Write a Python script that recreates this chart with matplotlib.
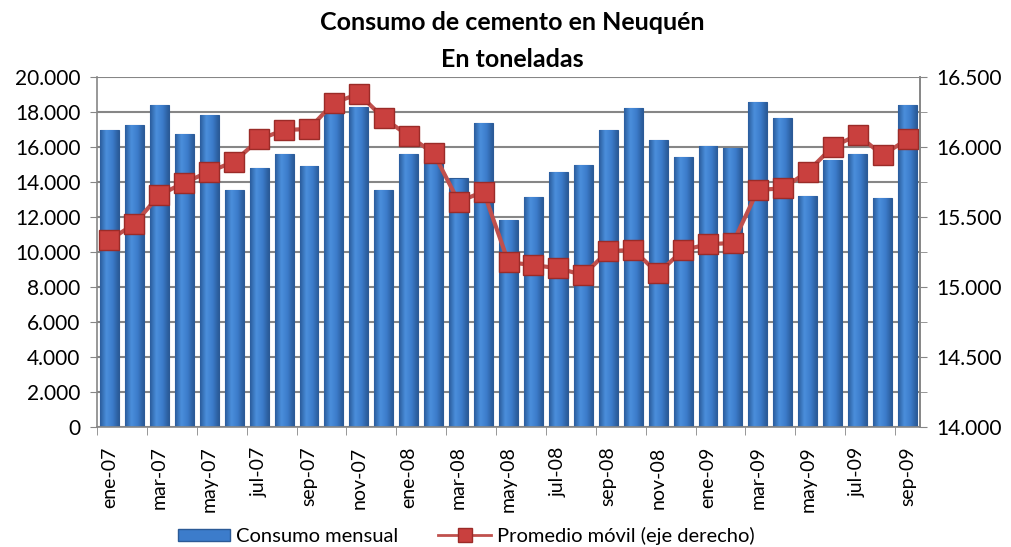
import matplotlib
matplotlib.use('Agg')
import matplotlib.pyplot as plt
import numpy as np
from matplotlib.colors import LinearSegmentedColormap
from matplotlib.ticker import FuncFormatter, FixedLocator, MultipleLocator
from matplotlib.lines import Line2D
from matplotlib.patches import Patch

months = ['ene-07', 'feb-07', 'mar-07', 'abr-07', 'may-07', 'jun-07', 'jul-07', 'ago-07',
          'sep-07', 'oct-07', 'nov-07', 'dic-07', 'ene-08', 'feb-08', 'mar-08', 'abr-08',
          'may-08', 'jun-08', 'jul-08', 'ago-08', 'sep-08', 'oct-08', 'nov-08', 'dic-08',
          'ene-09', 'feb-09', 'mar-09', 'abr-09', 'may-09', 'jun-09', 'jul-09', 'ago-09',
          'sep-09']

# consumo mensual (toneladas)
consumo = [17000, 17250, 18400, 16750, 17850, 13550, 14800, 15600, 14900, 18000,
           18270, 13550, 15600, 15300, 14200, 17350, 11830, 13160, 14550, 14990,
           16950, 18250, 16380, 15450, 16030, 15930, 18590, 17680, 13200, 15260,
           15600, 13070, 18400]

# promedio movil (eje derecho)
promedio = [15336, 15450, 15657, 15745, 15824, 15895, 16055, 16121, 16129, 16317,
            16379, 16205, 16079, 15955, 15610, 15681, 15176, 15157, 15133, 15086,
            15257, 15264, 15098, 15264, 15305, 15315, 15693, 15705, 15824, 16002,
            16086, 15943, 16055]

plt.rcParams['font.family'] = ['Lato', 'DejaVu Sans']


def miles(v, pos):
    return f'{v:,.0f}'.replace(',', '.')


fig = plt.figure(figsize=(10.11, 5.47), dpi=100)
ax = fig.add_axes([97 / 1011, 1 - 427 / 547, 823 / 1011, 350 / 547])
x = np.arange(len(months))

bars = ax.bar(x, consumo, width=0.76, color='#3A78C8', edgecolor='#2B5A96',
              linewidth=0.8, zorder=2)

# shading across each bar
grad = np.linspace(0, 1, 60).reshape(1, -1)
cmap = LinearSegmentedColormap.from_list('barra', ['#2A5C9C', '#4B8FDC', '#3C7CCB', '#2A5A98'])
for b in bars:
    im = ax.imshow(grad, extent=[b.get_x(), b.get_x() + b.get_width(), 0, b.get_height()],
                   aspect='auto', cmap=cmap, zorder=2.1, interpolation='bicubic')
    im.set_clip_path(b)

ax.set_xlim(-0.5, len(months) - 0.5)
ax.set_ylim(0, 20000)
ax.set_yticks(range(0, 20001, 2000))
ax.yaxis.set_major_formatter(FuncFormatter(miles))
ax.set_xticks(x[::2])
ax.set_xticklabels(months[::2], rotation=90, fontsize=14)
ax.xaxis.set_minor_locator(FixedLocator(np.arange(-0.5, len(months), 2)))
ax.tick_params(axis='x', which='major', length=0, pad=14)
ax.tick_params(axis='x', which='minor', length=6, color='#868686')
ax.tick_params(axis='y', length=5, color='#868686', labelsize=15, pad=7)
ax.grid(axis='y', color='#868686', lw=1.5)
ax.set_axisbelow(True)
for s in ['left', 'bottom', 'right']:
    ax.spines[s].set_color('#868686')
    ax.spines[s].set_linewidth(1.2)
ax.spines['top'].set_visible(False)

ax2 = ax.twinx()
ax2.plot(x, promedio, color='#C0504D', lw=3, marker='s', ms=15,
         mfc='#C9403E', mec='#9B2B28', mew=1)
ax2.set_ylim(14000, 16500)
ax2.set_yticks(range(14000, 16501, 500))
ax2.yaxis.set_minor_locator(MultipleLocator(250))
ax2.yaxis.set_major_formatter(FuncFormatter(miles))
ax2.tick_params(axis='y', which='both', length=5, color='#868686', labelsize=15, pad=7)
ax2.spines['right'].set_color('#868686')
ax2.spines['right'].set_linewidth(1.2)
ax2.spines['top'].set_visible(False)
ax2.spines['left'].set_visible(False)
ax2.spines['bottom'].set_visible(False)

fig.text(512 / 1011, 1 - 30 / 547, 'Consumo de cemento en Neuquén', ha='center', va='baseline',
         fontsize=18, fontweight='bold')
fig.text(512 / 1011, 1 - 67 / 547, 'En toneladas', ha='center', va='baseline',
         fontsize=18, fontweight='bold')

handles = [Patch(facecolor='#3C7CCB', edgecolor='#2B5A96'),
           Line2D([], [], color='#C0504D', lw=2, marker='s', ms=10, mfc='#C9403E', mec='#9B2B28')]
fig.legend(handles, ['Consumo mensual', 'Promedio móvil (eje derecho)'], loc='center',
           bbox_to_anchor=(466 / 1011, 1 - 536 / 547), ncol=2, frameon=False, fontsize=14.5,
           handlelength=2.6, handleheight=0.55, handletextpad=0.3, columnspacing=2.0,
           borderpad=0)

fig.savefig('out.png', dpi=100)
